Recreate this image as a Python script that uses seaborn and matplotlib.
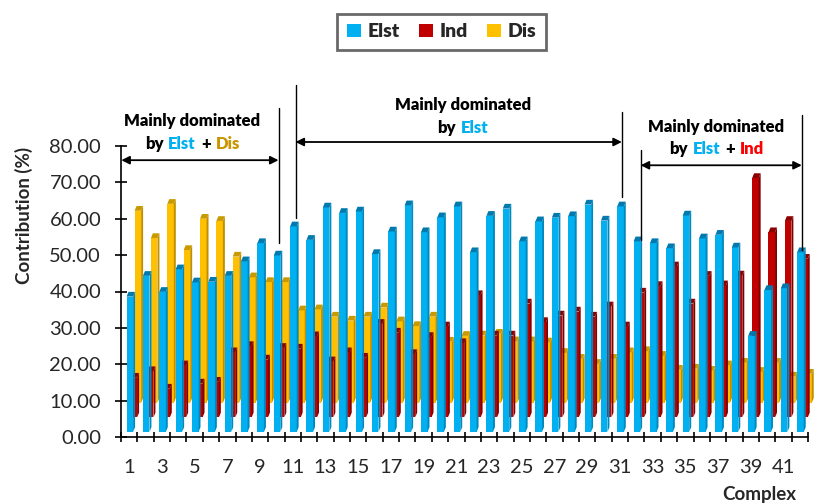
import numpy as np
import matplotlib.pyplot as plt
import seaborn as sns
from matplotlib.patches import Polygon, Patch
from matplotlib.collections import PatchCollection
from matplotlib.offsetbox import TextArea, HPacker, VPacker, AnnotationBbox

# Contribution (%) of each energy term per complex
complexes = np.arange(1, 43)
elst = [37.2, 42.9, 38.5, 44.7, 41.1, 41.3, 42.9, 46.9, 51.9, 48.5,
        56.5, 52.8, 61.7, 60.2, 60.6, 48.9, 55.1, 62.3, 54.9, 59.0,
        62.0, 49.4, 59.4, 61.4, 52.4, 57.9, 58.9, 59.3, 62.5, 58.1,
        62.0, 52.4, 51.9, 50.5, 59.5, 53.2, 54.2, 50.7, 26.4, 39.0,
        39.5, 49.4]
ind = [10.9, 12.7, 7.9, 14.3, 9.3, 9.8, 17.9, 19.6, 15.9, 19.1,
       18.9, 22.3, 15.4, 17.9, 16.4, 25.7, 23.3, 17.4, 22.1, 25.0,
       20.4, 33.6, 22.5, 22.5, 31.3, 26.2, 28.0, 29.1, 27.7, 30.5,
       25.0, 34.3, 36.1, 41.5, 31.3, 38.9, 36.3, 39.0, 65.8, 50.9,
       54.0, 43.6]
dis = [52.8, 45.3, 54.7, 42.0, 50.6, 50.0, 40.2, 34.5, 33.2, 33.2,
       25.4, 25.7, 23.7, 22.6, 23.7, 26.2, 22.4, 21.1, 23.7, 16.8,
       18.4, 18.5, 19.0, 16.9, 16.9, 16.6, 13.7, 12.1, 10.7, 12.1,
       13.9, 14.2, 12.9, 9.1, 9.4, 8.8, 10.3, 11.0, 8.5, 11.0,
       7.2, 8.0]
series_names = ['Elst', 'Ind', 'Dis']

# front, side, top colours (Excel-like 3D columns)
colors = {
    'Elst': ('#00B0F0', '#0089BE', '#0079AE'),
    'Ind': ('#C00000', '#7E0000', '#8C0000'),
    'Dis': ('#FFC000', '#BF8F00', '#C99A00'),
}

sns.set_theme(style="white")
plt.rcParams['font.family'] = ['Lato', 'DejaVu Sans']

fig = plt.figure(figsize=(8.35, 5.04), dpi=100)
ax = fig.add_axes([121 / 835, 67 / 504, 687 / 835, 291 / 504])

# pseudo 3D geometry (data units)
bar_w = 0.40
bar_off = -0.16
row_dx, row_dy = 0.245, 4.0
depth_dx, depth_dy = 0.12, 1.3
base0 = 1.4

data = {'Elst': elst, 'Ind': ind, 'Dis': dis}
# draw back row first
for k in [2, 1, 0]:
    name = series_names[k]
    vals = np.array(data[name])
    front, side, top = colors[name]
    x0 = complexes + bar_off + row_dx * k
    base = base0 + row_dy * k
    ax.bar(x0, vals, width=bar_w, bottom=base, align='edge',
           color=front, edgecolor='none', clip_on=False, zorder=2)
    sides, tops = [], []
    for xl, v in zip(x0, vals):
        xr = xl + bar_w
        t = base + v
        sides.append(Polygon([(xr, base), (xr + depth_dx, base + depth_dy),
                              (xr + depth_dx, t + depth_dy), (xr, t)]))
        tops.append(Polygon([(xl, t), (xr, t), (xr + depth_dx, t + depth_dy),
                             (xl + depth_dx, t + depth_dy)]))
    ax.add_collection(PatchCollection(sides, facecolor=side, edgecolor='none',
                                      clip_on=False, zorder=2))
    ax.add_collection(PatchCollection(tops, facecolor=top, edgecolor='none',
                                      clip_on=False, zorder=2))

ax.set_xlim(0.5, 42.5)
ax.set_ylim(0, 80)
sns.despine(ax=ax)
for sp in ['left', 'bottom']:
    ax.spines[sp].set_color('black')
    ax.spines[sp].set_linewidth(1.2)
    ax.spines[sp].set_zorder(5)

ax.set_yticks(np.arange(0, 81, 10))
ax.set_yticklabels([f'{v:.2f}' for v in np.arange(0, 81, 10)], fontsize=14.5)
ax.tick_params(axis='y', direction='inout', length=8.6, width=1.2,
               color='black', pad=10, left=True)
ax.set_xticks(np.arange(1, 42, 2))
ax.set_xticklabels([str(v) for v in np.arange(1, 42, 2)], fontsize=14.5)
ax.tick_params(axis='x', which='major', length=0, pad=16)
ax.set_xticks(np.arange(0.5, 43, 1), minor=True)
ax.tick_params(axis='x', which='minor', direction='inout', length=7.2,
               width=1.2, color='black', bottom=True)

ax.set_ylabel('Contribution (%)', fontsize=13.5, fontweight='bold')
ax.yaxis.set_label_coords(-0.128, 0.76)
fig.text(759 / 835, 1 / 504, 'Complex', fontsize=13.5, fontweight='bold',
         ha='center', va='bottom')

# legend
handles = [Patch(facecolor=colors[n][0], edgecolor='none', label=n)
           for n in series_names]
leg = fig.legend(handles=handles, loc='center', bbox_to_anchor=(0.529, 0.937),
                 ncol=3, frameon=True, fancybox=False, handlelength=0.7,
                 handleheight=0.7, handletextpad=0.35, columnspacing=1.0,
                 borderpad=0.5, borderaxespad=0,
                 prop={'weight': 'heavy', 'size': 14})
leg.get_frame().set_edgecolor('#444444')
leg.get_frame().set_linewidth(2)

# region annotations
line_kw = dict(color='black', lw=1, clip_on=False, zorder=6)
arrow_kw = dict(arrowstyle='<|-|>', color='black', lw=1.3,
                mutation_scale=12, shrinkA=0, shrinkB=0)
vlines = [(10.13, 53.3, 90.4), (11.17, 60.2, 96.7), (31.12, 65.9, 89.3),
          (32.27, 54.1, 78.8), (42.12, 51.4, 88.5)]
for xv, y0, y1 in vlines:
    ax.plot([xv, xv], [y0, y1], **line_kw)
arrows = [(0.52, 10.13, 76.1), (11.17, 31.12, 81.1), (32.27, 42.12, 74.7)]
for xa, xb, ya in arrows:
    ax.annotate('', xy=(xb, ya), xytext=(xa, ya), xycoords='data',
                arrowprops=arrow_kw, annotation_clip=False)

txt_kw = dict(size=12, weight='heavy')
label_sets = [
    (4.86, 83.6, [('by', 'black'), ('Elst', '#00B0F0'), ('+', 'black'), ('Dis', '#C89600')]),
    (21.4, 88.0, [('by', 'black'), ('Elst', '#00B0F0')]),
    (36.9, 82.2, [('by', 'black'), ('Elst', '#00B0F0'), ('+', 'black'), ('Ind', '#FF0000')]),
]
for xc, yc, parts in label_sets:
    line1 = TextArea('Mainly dominated', textprops=dict(color='black', **txt_kw))
    line2 = HPacker(children=[TextArea(p, textprops=dict(color=c, **txt_kw))
                              for p, c in parts], sep=3.5, pad=0, align='baseline')
    box = VPacker(children=[line1, line2], sep=5, pad=0, align='center')
    ab = AnnotationBbox(box, (xc, yc), xycoords='data', frameon=False,
                        box_alignment=(0.5, 0.5), annotation_clip=False)
    ax.add_artist(ab)

fig.savefig('out.png', dpi=100)
